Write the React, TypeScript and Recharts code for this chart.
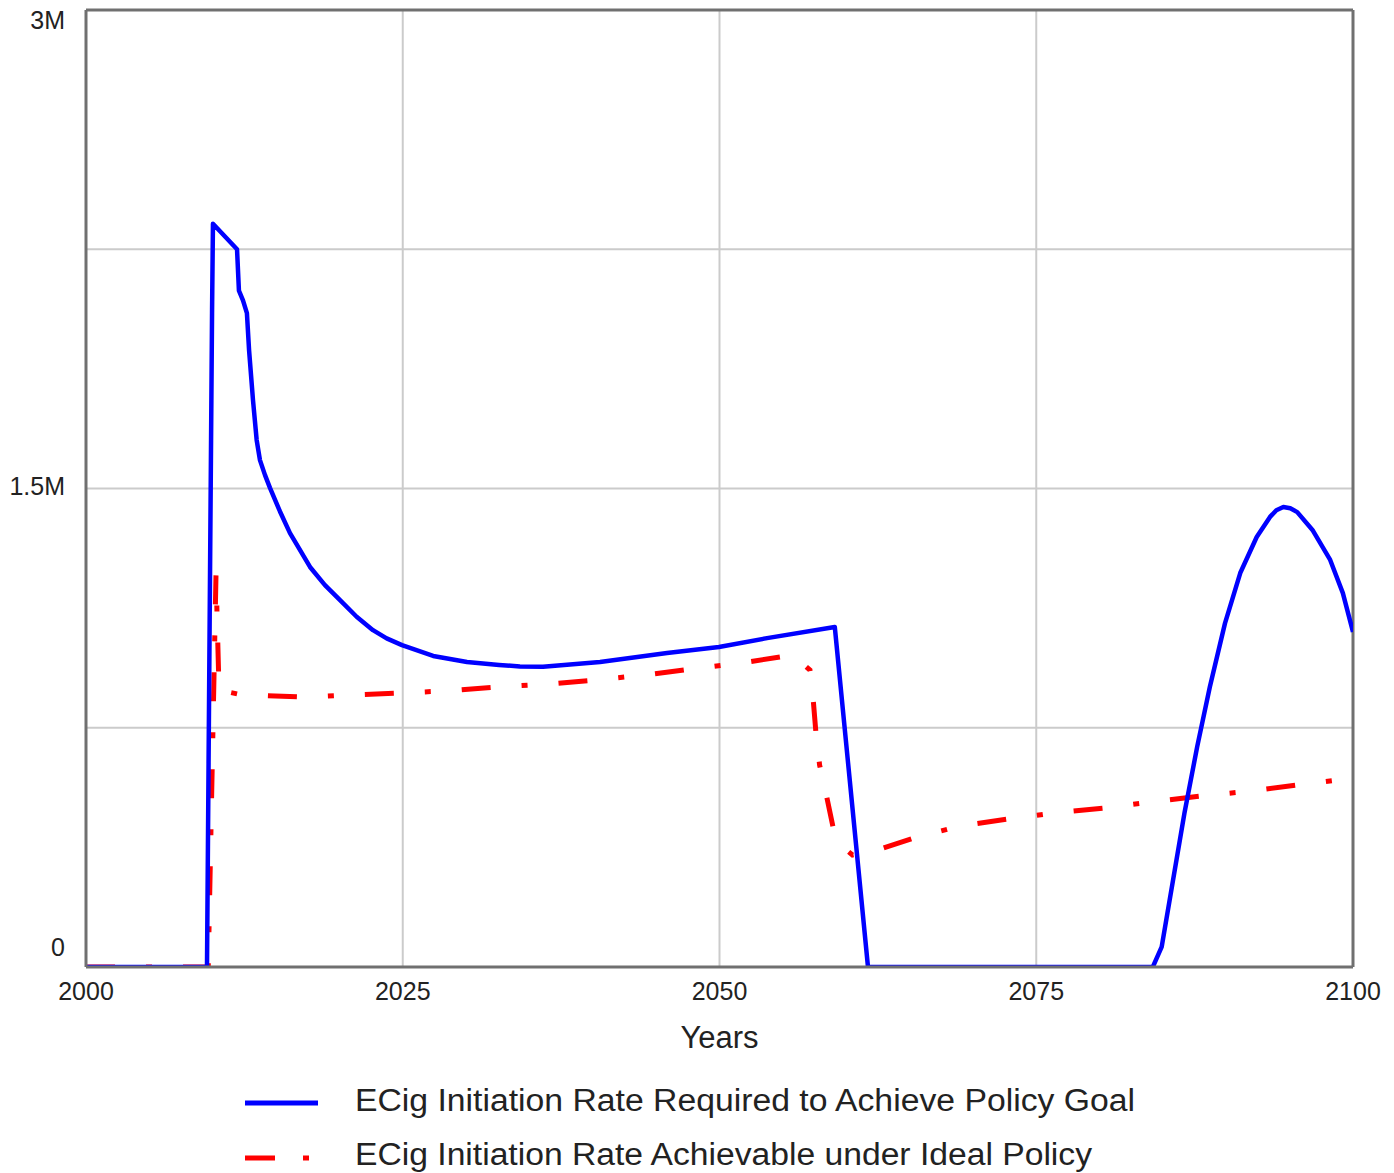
import React from "react";
import {
  LineChart,
  Line,
  XAxis,
  YAxis,
  CartesianGrid,
  ReferenceLine,
} from "recharts";

// Years (x) and values (millions) for "Required" series
const requiredYears = [
  2000, 2009.55, 2009.95, 2010.02, 2011.92, 2012.07, 2012.39, 2012.7, 2012.87, 2013.18,
  2013.47, 2013.73, 2014.13, 2014.52, 2015.31, 2016.1, 2017.68, 2018.86, 2020.05, 2021.36,
  2022.65, 2023.73, 2024.94, 2027.4, 2030.07, 2032.6, 2034.25, 2036.07, 2040.57, 2045.86,
  2049.96, 2053.75, 2059.1, 2061.72, 2084.2, 2084.9, 2085.8, 2086.7, 2087.7, 2088.7,
  2089.9, 2091.1, 2092.4, 2093.45, 2093.95, 2094.5, 2095.05, 2095.6, 2096.8, 2098.2,
  2099.2, 2100,
];
const requiredValues = [
  0, 0, 2.06, 2.33, 2.25, 2.12, 2.09, 2.05, 1.934, 1.777,
  1.652, 1.589, 1.542, 1.502, 1.428, 1.36, 1.254, 1.197, 1.15, 1.098,
  1.056, 1.03, 1.009, 0.975, 0.956, 0.947, 0.942, 0.941, 0.956, 0.984,
  1.003, 1.031, 1.066, 0, 0, 0.063, 0.273, 0.483, 0.69, 0.878,
  1.078, 1.235, 1.348, 1.411, 1.432, 1.442, 1.438, 1.426, 1.37, 1.276,
  1.172, 1.05,
];

// Years (x) and values (millions) for "Achievable" series
const achievableYears = [
  2000, 2009.65, 2010.26, 2010.5, 2012.3, 2017.3, 2021.0, 2024.9, 2028.7, 2032.5,
  2036.5, 2040.3, 2044.0, 2047.8, 2051.7, 2055.8, 2057.14, 2057.38, 2057.6, 2057.9,
  2058.4, 2058.96, 2059.6, 2060.5, 2061.5, 2062.7, 2065.3, 2069.0, 2072.8, 2076.6,
  2080.3, 2084.2, 2088.0, 2091.8, 2095.7, 2100,
];
const achievableValues = [
  0, 0, 1.229, 0.868, 0.853, 0.846, 0.853, 0.859, 0.866, 0.878,
  0.887, 0.9, 0.915, 0.934, 0.953, 0.978, 0.931, 0.846, 0.74, 0.633,
  0.545, 0.439, 0.38, 0.351, 0.358, 0.37, 0.404, 0.442, 0.464, 0.484,
  0.498, 0.518, 0.536, 0.551, 0.571, 0.592,
];

const xTicks = [2000, 2025, 2050, 2075, 2100];
const yTicks = [0, 0.75, 1.5, 2.25, 3];
const yTickLabels: Record<string, string> = { "0": "0", "1.5": "1.5M", "3": "3M" };

const seriesNames = [
  "ECig Initiation Rate Required to Achieve Policy Goal",
  "ECig Initiation Rate Achievable under Ideal Policy",
];

const requiredData = requiredYears.map((year, i) => ({ year, v: requiredValues[i] }));
const achievableData = achievableYears.map((year, i) => ({ year, v: achievableValues[i] }));

const FONT = "'Liberation Sans', Arial, sans-serif";
const BLUE = "#0000ff";
const RED = "#ff0000";
const FRAME = "#707070";
const GRID = "#cbcbcb";

const XTick = (props: any) => {
  const { x, y, payload } = props;
  return (
    <text x={x} y={y + 33} textAnchor="middle" fontFamily={FONT} fontSize={25} fill="#222">
      {payload.value}
    </text>
  );
};

const YTick = (props: any) => {
  const { x, y, payload } = props;
  const label = yTickLabels[String(payload.value)];
  if (!label) return null;
  let dy = 6;
  if (payload.value === 3) dy = 19;
  if (payload.value === 0) dy = -11;
  return (
    <text x={x - 21} y={y + dy} textAnchor="end" fontFamily={FONT} fontSize={25} fill="#222">
      {label}
    </text>
  );
};

const LegendBox = () => (
  <svg
    width={1394}
    height={100}
    style={{ position: "absolute", left: 0, top: 1072, display: "block" }}
  >
    <line x1={245} x2={318} y1={31} y2={31} stroke={BLUE} strokeWidth={5} />
    <text
      x={355}
      y={39}
      fontFamily={FONT}
      fontSize={31}
      fill="#222"
      textLength={780}
      lengthAdjust="spacingAndGlyphs"
    >
      {seriesNames[0]}
    </text>
    <line
      x1={245}
      x2={320}
      y1={86}
      y2={86}
      stroke={RED}
      strokeWidth={5}
      strokeDasharray="30 28 6 40"
    />
    <text
      x={355}
      y={93}
      fontFamily={FONT}
      fontSize={31}
      fill="#222"
      textLength={737}
      lengthAdjust="spacingAndGlyphs"
    >
      {seriesNames[1]}
    </text>
  </svg>
);

export default function App() {
  return (
    <div
      style={{
        position: "absolute",
        left: 0,
        top: 0,
        width: 1394,
        height: 1173,
        background: "#fff",
        overflow: "hidden",
      }}
    >
      <LineChart
        width={1394}
        height={1070}
        margin={{ top: 10, right: 41, left: 6, bottom: 43 }}
      >
        <CartesianGrid stroke={GRID} strokeWidth={2} />
        <XAxis
          dataKey="year"
          type="number"
          domain={[2000, 2100]}
          ticks={xTicks}
          allowDataOverflow
          tick={<XTick />}
          tickLine={false}
          tickSize={0}
          tickMargin={0}
          height={60}
          axisLine={{ stroke: FRAME, strokeWidth: 3 }}
          label={{
            value: "Years",
            position: "insideBottom",
            offset: 0,
            dy: 21,
            style: { fontFamily: FONT, fontSize: 31, fill: "#222" },
          }}
        />
        <YAxis
          type="number"
          domain={[0, 3]}
          ticks={yTicks}
          allowDataOverflow
          tick={<YTick />}
          tickLine={false}
          tickSize={0}
          tickMargin={0}
          width={80}
          axisLine={{ stroke: FRAME, strokeWidth: 3 }}
        />
        <ReferenceLine y={3} stroke={FRAME} strokeWidth={3} />
        <ReferenceLine x={2100} stroke={FRAME} strokeWidth={3} />
        <Line
          data={achievableData}
          dataKey="v"
          type="linear"
          stroke={RED}
          strokeWidth={5}
          strokeDasharray="29 31 6 31"
          dot={false}
          activeDot={false}
          isAnimationActive={false}
        />
        <Line
          data={requiredData}
          dataKey="v"
          type="linear"
          stroke={BLUE}
          strokeWidth={4.5}
          strokeLinejoin="round"
          dot={false}
          activeDot={false}
          isAnimationActive={false}
        />
      </LineChart>
      <LegendBox />
    </div>
  );
}
